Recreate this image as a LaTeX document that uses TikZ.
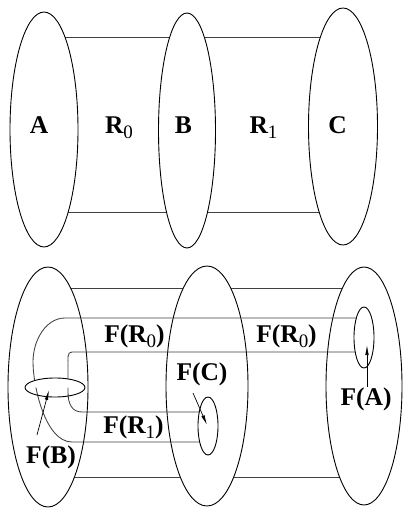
\documentclass[tikz,border=0pt]{standalone}
\usepackage{fontspec}
\setmainfont{Liberation Serif}
\usetikzlibrary{shapes.geometric,arrows.meta}
\newcommand{\lowidx}[1]{\raisebox{-5pt}{\fontsize{19}{19}\selectfont\mdseries #1}}
\begin{document}
\begin{tikzpicture}[x=1pt,y=-1pt,
 ell/.style={ellipse, draw=black, line width=0.9pt, fill=white, inner sep=0pt, outer sep=0pt},
 tube/.style={draw=black!75, line width=0.85pt},
 lbl/.style={font=\fontsize{25.5}{28}\selectfont\bfseries, inner sep=0pt, anchor=base},
 ptr/.style={draw=black, line width=0.7pt, -{Latex[length=10pt,width=3.5pt]}}]
\useasboundingbox (0,0) rectangle (402,508);
% ---------- top ----------
\coordinate (cA) at (44,129.5);
\coordinate (cB) at (187,130.5);
\coordinate (cC) at (343,126.5);
\draw[tube] (cA |- 0,37) -- (cC |- 0,37);
\draw[tube] (cA |- 0,212) -- (cC |- 0,212);
\node[ell, minimum width=68, minimum height=235] (A) at (cA) {};
\node[ell, minimum width=57, minimum height=235] (B) at (cB) {};
\node[ell, minimum width=69, minimum height=237] (C) at (cC) {};
\node[lbl] (lA) at (39,133) {A};
\node[lbl] (lR0) at (119,133) {R\lowidx{0}};
\node[lbl] (lB) at (183.5,133) {B};
\node[lbl] (lR1) at (263.5,133) {R\lowidx{1}};
\node[lbl] (lC) at (337.5,133) {C};
% ---------- bottom ----------
\coordinate (cL) at (48,387);
\coordinate (cM) at (207,386);
\coordinate (cR) at (364,386);
\draw[tube] (cL |- 0,288) -- (cR |- 0,288);
\draw[tube] (cL |- 0,477) -- (cR |- 0,477);
\node[ell, minimum width=80, minimum height=240] (L) at (cL) {};
\node[ell, minimum width=82, minimum height=240] (M) at (cM) {};
\node[ell, minimum width=76, minimum height=238] (R) at (cR) {};
\coordinate (cFA) at (364,337.5);
\coordinate (cFC) at (208,426);
\coordinate (cFB) at (55,387.5);
\draw[tube] (cFA |- 0,318) -- (65,318) .. controls (46,318) and (33,340) .. (33,362)
  .. controls (33,385) and (45,442) .. (72,442) -- (cFC |- 0,442);
\draw[tube] (cFA |- 0,352) -- (72,352) .. controls (67,352) and (68,358) .. (68,366)
  -- (68,392) .. controls (68,404) and (72,412) .. (82,412) -- (cFC |- 0,412);
\fill[white] (25,387.5) .. controls (25,382.25) and (38.4,378) .. (55,378)
  .. controls (71.6,378) and (85,382.25) .. (85,387.5) -- cycle;
\node[ell, fill=none, minimum width=60, minimum height=19] (FB) at (cFB) {};
\node[ell, minimum width=20, minimum height=61] (FA) at (cFA) {};
\node[ell, minimum width=20, minimum height=58] (FC) at (cFC) {};
\coordinate (tB) at (37,435); \coordinate (hB) at (49,390);
\coordinate (tC) at (193,393); \coordinate (hC) at (207,425);
\coordinate (tA) at (367,387); \coordinate (hA) at (367,345);
\draw[ptr] (tB) -- (hB);
\draw[ptr] (tC) -- (hC);
\draw[ptr] (tA) -- (hA);
\node[lbl] (lFR0a) at (134.5,342) {F(R\lowidx{0})};
\node[lbl] (lFR0b) at (286.5,342) {F(R\lowidx{0})};
\node[lbl] (lFC) at (202,380) {F(C)};
\node[lbl] (lFR1) at (133.5,433) {F(R\lowidx{1})};
\node[lbl] (lFA) at (366,405) {F(A)};
\node[lbl] (lFB) at (51,463) {F(B)};
\end{tikzpicture}
\end{document}
